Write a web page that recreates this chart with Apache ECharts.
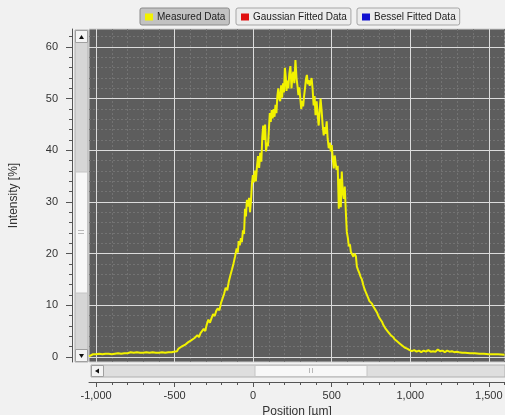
<!DOCTYPE html>
<html>
<head>
<meta charset="utf-8">
<script src="https://cdn.jsdelivr.net/npm/echarts@6/dist/echarts.min.js"></script>
<style>
html,body{margin:0;padding:0;background:#f1f1f1;}
#c{width:505px;height:415px;}
</style>
</head>
<body>
<div id="c"></div>
<script>
const seriesNames = ['Measured Data', 'Gaussian Fitted Data', 'Bessel Fitted Data'];
const xTickValues = [-1000, -500, 0, 500, 1000, 1500];
const xMinorValues = [-900, -800, -700, -600, -400, -300, -200, -100, 100, 200, 300, 400, 600, 700, 800, 900, 1100, 1200, 1300, 1400, 1600];
const yTickValues = [0, 10, 20, 30, 40, 50, 60];
const yMinorValues = [2, 4, 6, 8, 12, 14, 16, 18, 22, 24, 26, 28, 32, 34, 36, 38, 42, 44, 46, 48, 52, 54, 56, 58, 62];
const measured = [
[-1045,0.1],[-1038,0.4],[-1020,0.5],[-1000,0.5],[-980,0.6],[-960,0.5],[-940,0.6],[-920,0.6],[-900,0.5],[-880,0.6],[-860,0.7],[-840,0.6],[-820,0.7],[-800,0.7],[-780,0.9],[-760,0.8],[-740,0.9],[-720,0.8],[-700,0.8],[-680,0.9],[-660,0.8],[-640,0.9],[-620,0.8],[-600,0.8],[-580,0.9],[-560,0.8],[-540,0.9],[-520,0.9],[-505,1.0],
[-495,1.3],[-485,1.1],[-475,1.6],[-465,1.4],[-455,2.0],[-445,1.7],[-435,2.3],[-425,2.1],[-415,2.8],[-405,2.5],[-395,3.2],[-385,2.9],[-375,3.6],[-365,3.3],[-355,4.2],[-345,3.8],[-335,4.6],[-325,4.4],[-315,5.4],[-305,5.0],[-295,6.3],[-285,7.2],[-275,6.6],[-265,7.5],[-255,8.3],[-245,7.9],[-235,8.9],[-225,9.4],[-215,9.0],[-205,10.4],[-195,11.3],[-185,12.2],[-175,13.4],[-165,12.9],[-155,14.6],[-145,15.8],[-135,16.9],[-125,18.1],[-115,19.5],[-105,21.0],[-98,20.2],[-92,22.4],[-85,21.6],[-78,23.0],[-72,22.2],[-65,24.5],[-58,23.8],[-52,28.7],[-46,27.2],[-40,30.4],[-33,29.1],[-26,30.8],[-20,28.0],[-14,30.2],[-8,33.5],[-2,35.2],[4,33.8],[10,36.1],[17,34.0],[24,36.8],[31,38.9],[38,36.6],[45,39.5],[52,37.8],[58,42.5],[64,44.8],[70,42.0],[76,45.0],[82,39.8],[88,41.5],[94,40.8],[100,44.0],[106,47.2],[112,45.5],[118,47.8],[124,46.2],[130,48.0],[136,46.5],[142,48.8],[148,47.2],[154,50.5],[160,52.0],[166,50.0],[172,49.5],[178,52.6],[184,50.2],[190,53.0],[196,51.2],[202,56.0],[208,54.0],[212,51.5],[218,53.5],[224,52.0],[230,54.8],[237,56.3],[244,52.0],[250,54.5],[256,55.2],[262,53.0],[269,57.5],[276,54.0],[282,52.5],[288,50.7],[294,52.2],[300,50.0],[306,48.0],[312,49.6],[318,48.5],[324,50.5],[330,52.0],[336,53.8],[342,54.6],[348,52.8],[354,53.6],[360,52.5],[366,53.2],[372,54.0],[378,52.0],[385,48.7],[391,50.5],[397,46.8],[404,49.5],[410,47.0],[417,44.8],[423,47.5],[429,50.0],[436,47.6],[442,45.0],[449,42.9],[455,44.5],[461,43.2],[468,45.6],[474,42.3],[481,40.4],[488,41.5],[494,39.8],[500,41.0],[507,38.2],[513,36.5],[519,39.0],[525,37.5],[531,36.2],[538,37.0],[545,28.7],[551,34.5],[558,29.0],[564,35.9],[570,32.0],[577,30.6],[583,33.0],[590,28.0],[596,24.2],[603,23.0],[609,21.4],[616,21.8],[622,20.3],[630,20.6],[638,19.4],[646,20.0],[654,19.5],[660,17.5],[668,16.8],[676,16.2],[684,15.5],[692,15.0],[700,14.0],[708,13.2],[716,12.6],[724,12.0],[732,11.4],[740,10.8],[748,10.9],[756,10.3],[764,9.8],[772,9.5],[780,9.0],[788,8.6],[796,8.0],[804,7.5],[812,7.2],[820,6.8],[828,6.2],[836,6.0],[844,5.4],[852,5.2],[860,4.8],[868,4.6],[876,4.2],[884,3.9],[892,3.8],[900,3.4],[908,3.2],[916,3.0],[924,2.7],[932,2.6],[940,2.3],[948,2.2],[956,2.0],[964,1.8],[972,1.7],[980,1.6],[988,1.4],[996,1.3],
[1010,1.1],[1025,1.3],[1040,1.0],[1055,1.2],[1070,0.9],[1085,1.2],[1100,1.0],[1115,1.3],[1130,1.0],[1145,1.1],[1160,1.0],[1175,1.4],[1190,1.1],[1205,1.2],[1220,0.9],[1235,1.2],[1250,1.0],[1265,1.1],[1280,0.9],[1295,1.0],[1310,0.9],[1330,0.8],[1350,0.8],[1380,0.7],[1410,0.7],[1440,0.6],[1470,0.6],[1500,0.5],[1530,0.5],[1560,0.5],[1600,0.4]
];
const gaussianFit = [];
const besselFit = [];

const chart = echarts.init(document.getElementById('c'), null, {renderer: 'canvas'});
const FONT = 'Liberation Sans';
const X_MIN = -1045, X_MAX = 1603, Y_MIN = -1, Y_MAX = 63.5;

function legendBox(name, left, bg, border) {
  return {
    data: [name], left: left, top: 8, orient: 'horizontal',
    selectedMode: false, icon: 'rect', itemWidth: 8, itemHeight: 7, itemGap: 4,
    backgroundColor: bg, borderColor: border, borderWidth: 1, borderRadius: 2,
    padding: [4, 4, 3, 5],
    textStyle: {fontFamily: FONT, fontSize: 10, color: '#222', padding: [0, 0, 0, -1]}
  };
}

const minorLine = {show: true, lineStyle: {color: '#737373', width: 1, type: [2, 2]}};

const option = {
  backgroundColor: '#f1f1f1',
  animation: false,
  legend: [
    legendBox(seriesNames[0], 140, '#c2c2c2', '#8a8a8a'),
    legendBox(seriesNames[1], 236, '#ececec', '#a5a5a5'),
    legendBox(seriesNames[2], 357, '#ececec', '#a5a5a5')
  ],
  grid: {
    left: 89, right: 0, top: 29, bottom: 53,
    containLabel: false, outerBoundsMode: 'none',
    show: true, backgroundColor: '#5d5d5d', borderColor: '#cfcfcf', borderWidth: 1
  },
  xAxis: [{
    type: 'value', min: X_MIN, max: X_MAX, offset: 20, position: 'bottom', z: 3,
    name: 'Position [µm]', nameLocation: 'middle', nameGap: 23,
    nameTextStyle: {fontFamily: FONT, fontSize: 12, color: '#333'},
    axisLine: {show: true, onZero: false, lineStyle: {color: '#555', width: 1}},
    axisTick: {show: true, length: 5, customValues: xTickValues, lineStyle: {color: '#555'}},
    axisLabel: {
      customValues: xTickValues, margin: 8, fontFamily: FONT, fontSize: 11, color: '#333',
      formatter: v => v.toLocaleString('en-US')
    },
    splitLine: {show: true, lineStyle: {color: '#dcdcdc', width: 1}}
  }, {
    type: 'value', min: X_MIN, max: X_MAX, offset: 20, position: 'bottom', z: 2,
    axisLine: {show: false, onZero: false},
    axisTick: {show: true, length: 3, customValues: xMinorValues, lineStyle: {color: '#555'}},
    axisLabel: {show: false, customValues: xMinorValues},
    splitLine: minorLine
  }],
  yAxis: [{
    type: 'value', min: Y_MIN, max: Y_MAX, offset: 17, position: 'left', z: 3,
    name: 'Intensity [%]', nameLocation: 'middle', nameRotate: 90, nameGap: 52,
    nameTextStyle: {fontFamily: FONT, fontSize: 12, color: '#333'},
    axisLine: {show: true, onZero: false, lineStyle: {color: '#555', width: 1}},
    axisTick: {show: true, length: 6, customValues: yTickValues, lineStyle: {color: '#555'}},
    axisLabel: {customValues: yTickValues, margin: 14, fontFamily: FONT, fontSize: 11, color: '#333'},
    splitLine: {show: true, lineStyle: {color: '#dcdcdc', width: 1}}
  }, {
    type: 'value', min: Y_MIN, max: Y_MAX, offset: 17, position: 'left', z: 2,
    axisLine: {show: false, onZero: false},
    axisTick: {show: true, length: 3, customValues: yMinorValues, lineStyle: {color: '#555'}},
    axisLabel: {show: false, customValues: yMinorValues},
    splitLine: minorLine
  }],
  series: [
    {name: seriesNames[0], type: 'line', data: measured, showSymbol: false, symbol: 'none',
     lineStyle: {color: '#f2f200', width: 2}, itemStyle: {color: '#f2f200'}, clip: true, z: 5},
    {name: seriesNames[1], type: 'line', data: gaussianFit, showSymbol: false,
     lineStyle: {color: '#e01010'}, itemStyle: {color: '#e01010'}},
    {name: seriesNames[2], type: 'line', data: besselFit, showSymbol: false,
     lineStyle: {color: '#1010d0'}, itemStyle: {color: '#1010d0'}}
  ],
  graphic: [
    // vertical scrollbar
    {type: 'rect', shape: {x: 75, y: 30, width: 13, height: 332}, style: {fill: '#d6d6d6', stroke: '#b0b0b0', lineWidth: 1}, silent: true},
    {type: 'rect', shape: {x: 75.5, y: 172, width: 12, height: 121}, style: {fill: '#f7f7f7', stroke: '#c4c4c4', lineWidth: 1}, silent: true},
    {type: 'rect', shape: {x: 78, y: 230, width: 6, height: 1}, style: {fill: '#b8b8b8'}, silent: true},
    {type: 'rect', shape: {x: 78, y: 233, width: 6, height: 1}, style: {fill: '#b8b8b8'}, silent: true},
    {type: 'rect', shape: {x: 75.5, y: 30.5, width: 12, height: 12}, style: {fill: '#f4f4f4', stroke: '#a0a0a0', lineWidth: 1}, silent: true},
    {type: 'polygon', shape: {points: [[79, 39], [81.5, 35], [84, 39]]}, style: {fill: '#111'}, silent: true},
    {type: 'rect', shape: {x: 75.5, y: 349.5, width: 12, height: 12}, style: {fill: '#f4f4f4', stroke: '#a0a0a0', lineWidth: 1}, silent: true},
    {type: 'polygon', shape: {points: [[79, 354], [81.5, 358], [84, 354]]}, style: {fill: '#111'}, silent: true},
    // horizontal scrollbar
    {type: 'rect', shape: {x: 91, y: 365, width: 414, height: 12}, style: {fill: '#dedede', stroke: '#b0b0b0', lineWidth: 1}, silent: true},
    {type: 'rect', shape: {x: 255, y: 365.5, width: 112, height: 11}, style: {fill: '#f7f7f7', stroke: '#c4c4c4', lineWidth: 1}, silent: true},
    {type: 'rect', shape: {x: 309, y: 368, width: 1, height: 5}, style: {fill: '#b8b8b8'}, silent: true},
    {type: 'rect', shape: {x: 312, y: 368, width: 1, height: 5}, style: {fill: '#b8b8b8'}, silent: true},
    {type: 'rect', shape: {x: 91.5, y: 365.5, width: 12, height: 11}, style: {fill: '#f4f4f4', stroke: '#a0a0a0', lineWidth: 1}, silent: true},
    {type: 'polygon', shape: {points: [[99, 368.5], [95, 371], [99, 373.5]]}, style: {fill: '#111'}, silent: true}
  ]
};
chart.setOption(option);
</script>
</body>
</html>
